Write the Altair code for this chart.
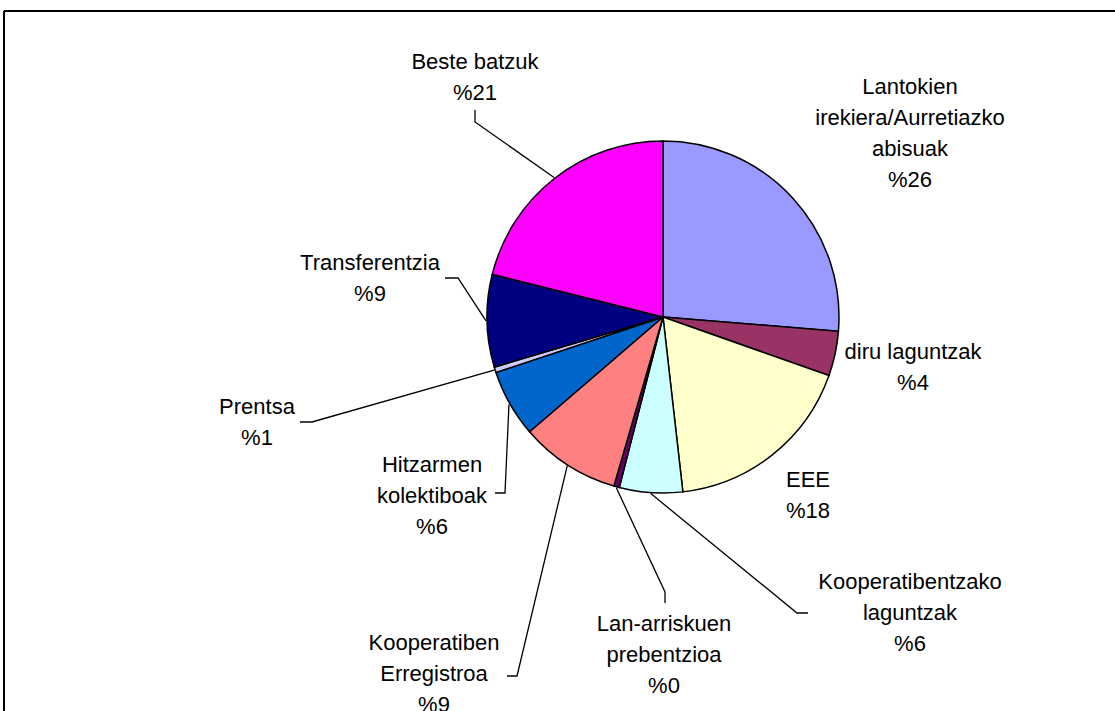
import altair as alt
import pandas as pd
import numpy as np

# ---- data ----
categories = [
    "Lantokien irekiera/Aurretiazko abisuak",
    "diru laguntzak",
    "EEE",
    "Kooperatibentzako laguntzak",
    "Lan-arriskuen prebentzioa",
    "Kooperatiben Erregistroa",
    "Hitzarmen kolektiboak",
    "Prentsa",
    "Transferentzia",
    "Beste batzuk",
]
label_text = [
    "Lantokien\nirekiera/Aurretiazko\nabisuak",
    "diru laguntzak",
    "EEE",
    "Kooperatibentzako\nlaguntzak",
    "Lan-arriskuen\nprebentzioa",
    "Kooperatiben\nErregistroa",
    "Hitzarmen\nkolektiboak",
    "Prentsa",
    "Transferentzia",
    "Beste batzuk",
]
values = [26.3, 4.1, 17.8, 5.8, 0.5, 9.2, 6.2, 0.5, 8.5, 21.1]
pct_labels = ["%26", "%4", "%18", "%6", "%0", "%9", "%6", "%1", "%9", "%21"]
colors = ["#9999FF", "#993366", "#FFFFCC", "#CCFFFF", "#660066",
          "#FF8080", "#0066CC", "#CCCCFF", "#000080", "#FF00FF"]

# ---- layout ----
W, H = 1115, 711
CX, CY, R = 663, 317, 176
FONT = "Liberation Sans"
# centre of the first label line, relative to pie centre
label_offset = [(247, -230), (250, 35), (145, 163), (247, 265), (1, 307),
                (-229, 326), (-231, 148), (-406, 90), (-293, -54), (-188, -255)]
# leader line: knee point and tick end (absolute), None = no leader
leader_pts = [None, None, None,
              [(797, 613), (808, 613)],
              [(665, 592), (665, 603)],
              [(517, 676), (507, 676)],
              [(505, 493), (495, 493)],
              [(312, 422), (300, 422)],
              [(458, 278), (445, 278)],
              [(475, 122), (475, 110)]]

df = pd.DataFrame({"category": categories, "value": values, "idx": range(len(values))})

total = sum(values)
cum = np.cumsum([0] + values)
mid = [(cum[i] + cum[i + 1]) / 2 / total * 2 * np.pi for i in range(len(values))]

lab = pd.DataFrame({
    "label": [t + "\n" + p for t, p in zip(label_text, pct_labels)],
    "lx": [CX + o[0] for o in label_offset],
    "ly": [CY + o[1] for o in label_offset],
})

rows = []
for i, pts in enumerate(leader_pts):
    if pts is None:
        continue
    a = mid[i]
    sx, sy = CX + (R + 1) * np.sin(a), CY - (R + 1) * np.cos(a)
    for k, (px, py) in enumerate([(sx, sy)] + pts):
        rows.append({"slice": categories[i], "k": k, "px": px, "py": py})
lead = pd.DataFrame(rows)

pie = alt.Chart(df).mark_arc(radius=R, stroke="black", strokeWidth=1.5).encode(
    theta=alt.Theta("value:Q", stack=True),
    color=alt.Color("category:N", scale=alt.Scale(domain=categories, range=colors), legend=None),
    order=alt.Order("idx:Q"),
    x=alt.value(CX),
    y=alt.value(CY),
)

lines = alt.Chart(lead).mark_line(color="black", strokeWidth=1.3).encode(
    x=alt.X("px:Q", scale=None, axis=None),
    y=alt.Y("py:Q", scale=None, axis=None),
    detail="slice:N",
    order="k:Q",
)

texts = alt.Chart(lab).mark_text(
    font=FONT, fontSize=22, lineHeight=31, lineBreak="\n",
    align="center", baseline="middle", color="black",
).encode(
    x=alt.X("lx:Q", scale=None, axis=None),
    y=alt.Y("ly:Q", scale=None, axis=None),
    text="label:N",
)

one = pd.DataFrame({"a": [0]})
frame_top = alt.Chart(one).mark_rule(color="black", strokeWidth=2).encode(
    x=alt.value(4), x2=alt.value(W), y=alt.value(11))
frame_left = alt.Chart(one).mark_rule(color="black", strokeWidth=2).encode(
    x=alt.value(4), y=alt.value(11), y2=alt.value(H))

chart = alt.layer(pie, lines, texts, frame_top, frame_left).properties(
    width=W, height=H, padding=0, autosize=alt.AutoSizeParams(type="none"),
    background="white",
).configure_view(stroke=None)

chart.save("out.html", embed_options={"renderer": "svg", "actions": False})
